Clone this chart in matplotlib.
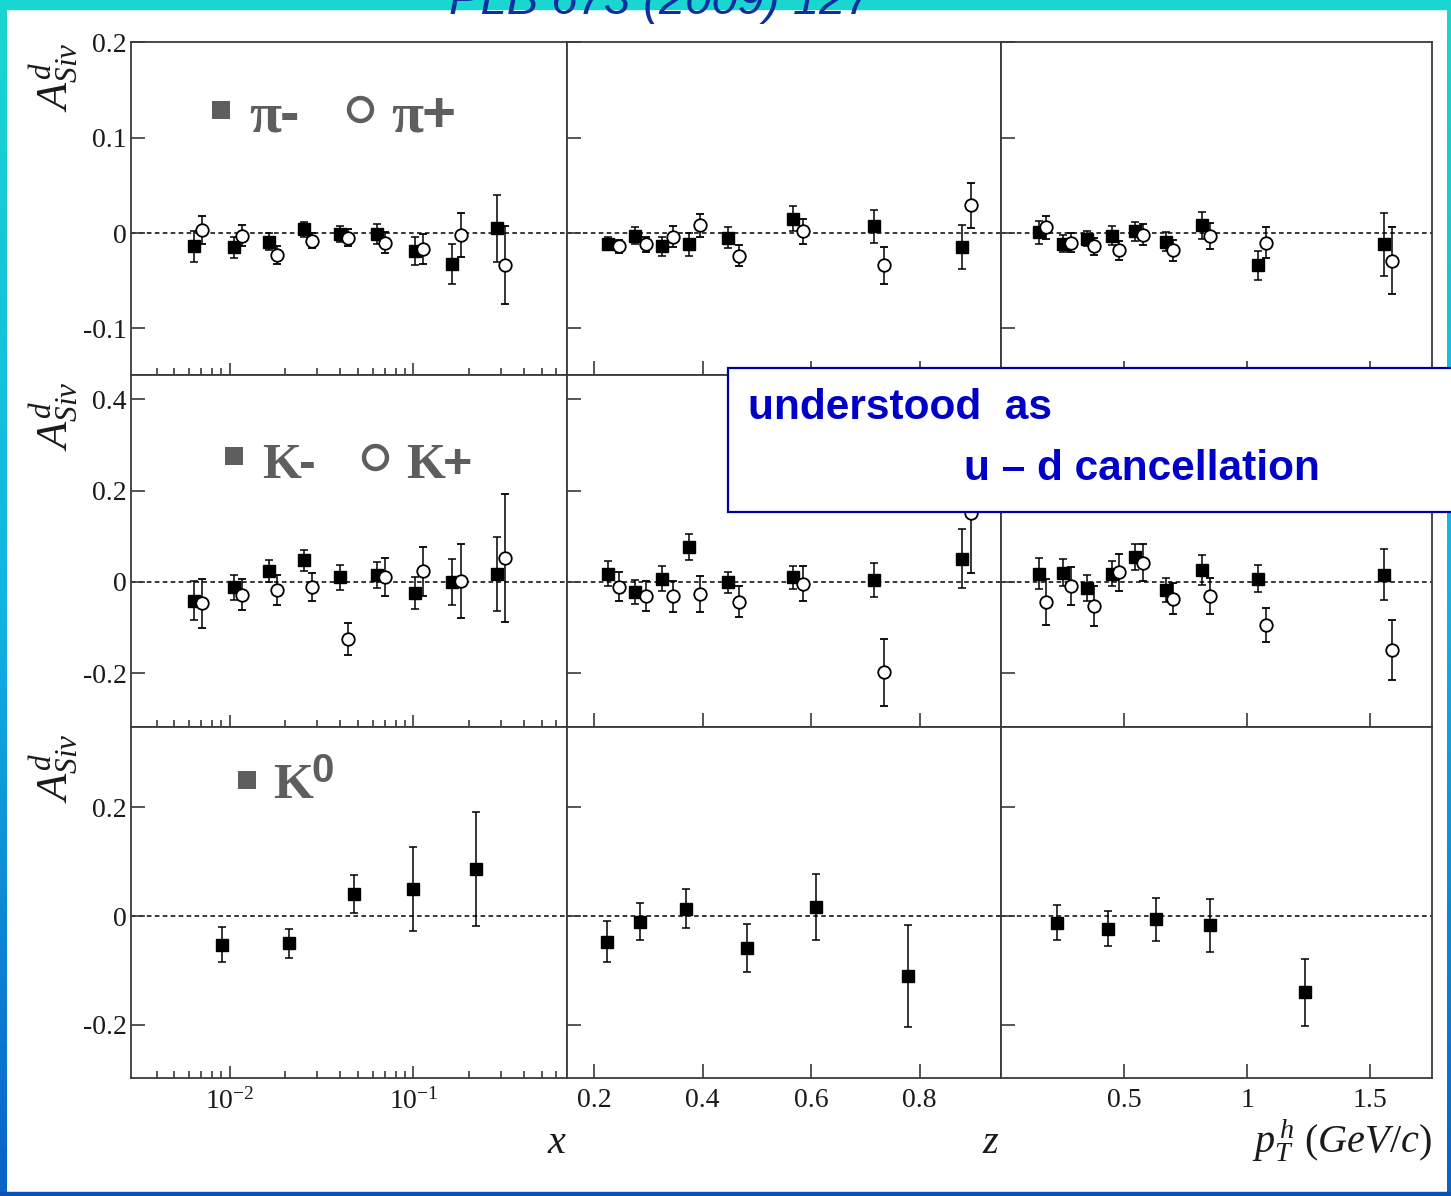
import matplotlib.pyplot as plt
import numpy as np
from matplotlib.lines import Line2D
from matplotlib.patches import Rectangle
from matplotlib.colors import LinearSegmentedColormap
from matplotlib.ticker import FixedLocator, NullFormatter, FixedFormatter

plt.rcParams['mathtext.fontset'] = 'custom'
plt.rcParams['mathtext.rm'] = 'Liberation Serif'
plt.rcParams['mathtext.it'] = 'Liberation Serif:italic'

# bin positions (shared by pions and kaons)
x_neg = [0.0064, 0.0105, 0.0164, 0.0255, 0.0398, 0.0632, 0.102, 0.162, 0.286]
x_pos = [0.0071, 0.0116, 0.0181, 0.0281, 0.044, 0.070, 0.113, 0.181, 0.316]
z_neg = [0.226, 0.276, 0.325, 0.375, 0.447, 0.566, 0.716, 0.878]
z_pos = [0.245, 0.295, 0.346, 0.395, 0.467, 0.585, 0.735, 0.895]
pt_neg = [0.155, 0.253, 0.348, 0.449, 0.545, 0.668, 0.816, 1.045, 1.557]
pt_pos = [0.184, 0.283, 0.379, 0.479, 0.578, 0.699, 0.847, 1.074, 1.588]

# pi- / pi+ asymmetries
pim_x = [-0.014, -0.015, -0.009, 0.004, -0.001, -0.001, -0.019, -0.033, 0.005]
pim_x_err = [0.016, 0.011, 0.009, 0.008, 0.008, 0.011, 0.015, 0.021, 0.035]
pip_x = [0.003, -0.003, -0.023, -0.008, -0.005, -0.010, -0.017, -0.002, -0.034]
pip_x_err = [0.015, 0.011, 0.009, 0.008, 0.009, 0.011, 0.016, 0.023, 0.041]
pim_z = [-0.011, -0.003, -0.014, -0.012, -0.005, 0.015, 0.007, -0.015]
pim_z_err = [0.007, 0.009, 0.010, 0.012, 0.011, 0.013, 0.017, 0.023]
pip_z = [-0.014, -0.012, -0.004, 0.008, -0.024, 0.002, -0.034, 0.029]
pip_z_err = [0.007, 0.008, 0.011, 0.012, 0.011, 0.013, 0.019, 0.024]
pim_pt = [0.001, -0.011, -0.006, -0.003, 0.002, -0.009, 0.008, -0.034, -0.012]
pim_pt_err = [0.012, 0.009, 0.008, 0.010, 0.010, 0.010, 0.014, 0.015, 0.033]
pip_pt = [0.006, -0.010, -0.014, -0.018, -0.002, -0.018, -0.003, -0.010, -0.029]
pip_pt_err = [0.012, 0.010, 0.009, 0.010, 0.011, 0.011, 0.014, 0.016, 0.035]

# K- / K+ asymmetries
km_x = [-0.041, -0.012, 0.023, 0.047, 0.010, 0.015, -0.024, -0.001, 0.018]
km_x_err = [0.043, 0.027, 0.024, 0.023, 0.027, 0.029, 0.035, 0.050, 0.081]
kp_x = [-0.047, -0.028, -0.018, -0.011, -0.126, 0.010, 0.023, 0.001, 0.053]
kp_x_err = [0.054, 0.034, 0.032, 0.030, 0.035, 0.042, 0.053, 0.081, 0.140]
km_z = [0.018, -0.023, 0.007, 0.076, -0.001, 0.010, 0.004, 0.051]
km_z_err = [0.027, 0.026, 0.027, 0.029, 0.023, 0.025, 0.038, 0.065]
kp_z = [-0.011, -0.031, -0.032, -0.027, -0.044, -0.004, -0.198, 0.150]
kp_z_err = [0.032, 0.033, 0.034, 0.039, 0.034, 0.038, 0.073, 0.130]
km_pt = [0.018, 0.020, -0.014, 0.018, 0.054, -0.018, 0.026, 0.007, 0.016]
km_pt_err = [0.034, 0.029, 0.028, 0.028, 0.029, 0.026, 0.033, 0.029, 0.055]
kp_pt = [-0.044, -0.009, -0.053, 0.021, 0.042, -0.037, -0.031, -0.095, -0.149]
kp_pt_err = [0.051, 0.042, 0.044, 0.041, 0.040, 0.034, 0.040, 0.037, 0.065]

# K0 asymmetries
k0_xbin = [0.00907, 0.0209, 0.0472, 0.100, 0.219]
k0_x = [-0.052, -0.050, 0.041, 0.050, 0.087]
k0_x_err = [0.033, 0.027, 0.035, 0.078, 0.105]
k0_zbin = [0.224, 0.285, 0.370, 0.481, 0.609, 0.778]
k0_z = [-0.047, -0.010, 0.014, -0.058, 0.017, -0.110]
k0_z_err = [0.038, 0.034, 0.036, 0.044, 0.061, 0.093]
k0_ptbin = [0.227, 0.433, 0.629, 0.847, 1.234]
k0_pt = [-0.012, -0.023, -0.006, -0.017, -0.140]
k0_pt_err = [0.032, 0.032, 0.039, 0.049, 0.062]

row_ylims = [(-0.149, 0.2005), (-0.318, 0.453), (-0.2975, 0.348)]
row_yticks = [[0.2, 0.1, 0, -0.1], [0.4, 0.2, 0, -0.2], [0.2, 0, -0.2]]
row_ylabels = [['0.2', '0.1', '0', '-0.1'], ['0.4', '0.2', '0', '-0.2'], ['0.2', '0', '-0.2']]

W, H = 1451, 1196
fig = plt.figure(figsize=(W / 100, H / 100), dpi=100)


def fx(px):
    return px / W


def fy(py):
    return 1 - py / H


def box(l, t, r, b):
    return [l / W, 1 - b / H, (r - l) / W, (b - t) / H]


# slide frame
bg = fig.add_axes([0, 0, 1, 1], zorder=-5)
bg.axis('off')
grad = np.linspace(0, 1, 256).reshape(-1, 1)
frame_cmap = LinearSegmentedColormap.from_list('frame', ['#1ad6d0', '#12b4e2', '#0a62c8'])
bg.imshow(grad, cmap=frame_cmap, extent=[0, 7, H, 0], aspect='auto')
bg.imshow(grad, cmap=frame_cmap, extent=[1447, W, H, 0], aspect='auto')
bg.set_xlim(0, W)
bg.set_ylim(H, 0)
bg.add_patch(Rectangle((0, 0), W, 9, color='#1ad6d0'))
bg.add_patch(Rectangle((0, 1192), W, 4, color='#0a50b8'))

fig.text(fx(660), fy(14), 'PLB 673 (2009) 127', ha='center', va='baseline',
         family='Liberation Sans', style='italic',
         fontsize=34, color='#0d2fa0', zorder=10)

cols = [(131, 567), (567, 1001), (1001, 1432)]
rows = [(42, 375), (375, 727), (727, 1078)]
spine_col = '#3a3a3a'

panels = [
    [((x_neg, pim_x, pim_x_err), (x_pos, pip_x, pip_x_err)),
     ((z_neg, pim_z, pim_z_err), (z_pos, pip_z, pip_z_err)),
     ((pt_neg, pim_pt, pim_pt_err), (pt_pos, pip_pt, pip_pt_err))],
    [((x_neg, km_x, km_x_err), (x_pos, kp_x, kp_x_err)),
     ((z_neg, km_z, km_z_err), (z_pos, kp_z, kp_z_err)),
     ((pt_neg, km_pt, km_pt_err), (pt_pos, kp_pt, kp_pt_err))],
    [((k0_xbin, k0_x, k0_x_err), None),
     ((k0_zbin, k0_z, k0_z_err), None),
     ((k0_ptbin, k0_pt, k0_pt_err), None)],
]

for r, (top, bot) in enumerate(rows):
    for c, (left, right) in enumerate(cols):
        ax = fig.add_axes(box(left, top, right, bot))
        for s in ax.spines.values():
            s.set_color(spine_col)
            s.set_linewidth(1.3)
        if c == 0:
            ax.set_xscale('log')
            ax.set_xlim(0.0029, 0.685)
            ax.xaxis.set_major_locator(FixedLocator([0.01, 0.1]))
            minors = [m * d for d in (0.001, 0.01, 0.1) for m in range(2, 10)
                      if m * d > 0.0035]
            ax.xaxis.set_minor_locator(FixedLocator(minors))
            ax.xaxis.set_minor_formatter(NullFormatter())
            xt_labels = [r'$\mathregular{10^{-2}}$', r'$\mathregular{10^{-1}}$']
        elif c == 1:
            ax.set_xlim(0.15, 0.95)
            ax.xaxis.set_major_locator(FixedLocator([0.2, 0.4, 0.6, 0.8]))
            xt_labels = ['0.2', '0.4', '0.6', '0.8']
        else:
            ax.set_xlim(0, 1.75)
            ax.xaxis.set_major_locator(FixedLocator([0.5, 1.0, 1.5]))
            xt_labels = ['0.5', '1', '1.5']
        if r == 2:
            ax.xaxis.set_major_formatter(FixedFormatter(xt_labels))
        else:
            ax.xaxis.set_major_formatter(NullFormatter())

        ax.set_ylim(*row_ylims[r])
        ax.yaxis.set_major_locator(FixedLocator(row_yticks[r]))
        if c == 0:
            ax.yaxis.set_major_formatter(FixedFormatter(row_ylabels[r]))
        else:
            ax.yaxis.set_major_formatter(NullFormatter())

        ax.tick_params(axis='both', which='major', direction='in', length=10,
                       width=1.2, color=spine_col, labelsize=20, labelcolor='#1a1a1a')
        ax.tick_params(axis='x', which='major', pad=7)
        ax.tick_params(axis='y', which='major', pad=3)
        ax.tick_params(axis='x', which='minor', direction='in', length=5,
                       width=1.2, color=spine_col)
        if c == 0:
            ax.tick_params(axis='x', which='major', length=9)
        ax.tick_params(top=False, right=False)
        for lab in ax.get_xticklabels() + ax.get_yticklabels():
            lab.set_family('Liberation Serif')

        ax.axhline(0, color='black', lw=1.1, dashes=[3, 2.2], zorder=1)

        neg, pos = panels[r][c]
        ax.errorbar(neg[0], neg[1], yerr=neg[2], fmt='s', ms=8, color='black',
                    ecolor='black', elinewidth=1.1, capsize=2.8, capthick=1.1, zorder=3)
        if pos is not None:
            ax.errorbar(pos[0], pos[1], yerr=pos[2], fmt='o', ms=9, mfc='white',
                        mec='black', mew=1.3, ecolor='black', elinewidth=1.1,
                        capsize=2.8, capthick=1.1, zorder=4)

# y-axis titles
for ytop in (42, 381, 733):
    fig.text(fx(54), fy(ytop), r'$A^{d}_{Siv}$', rotation=90, ha='center', va='top',
             fontsize=32, color='#1a1a1a')

# x-axis titles
fig.text(fx(567), fy(1153), r'$x$', ha='right', va='baseline', fontsize=29, color='#1a1a1a')
fig.text(fx(1000), fy(1153), r'$z$', ha='right', va='baseline', fontsize=29, color='#1a1a1a')
fig.text(fx(1432), fy(1153), r'$p^{\,h}_{T}\ (GeV/c)$', ha='right', va='baseline',
         fontsize=29, color='#1a1a1a')

# hadron legends drawn in grey
grey = '#5e5e5e'


def legend_marker(px, py, marker, size, filled=True):
    fig.add_artist(Line2D([fx(px)], [fy(py)], marker=marker, ms=size, ls='none',
                          mfc=grey if filled else 'none', mec=grey,
                          mew=0 if filled else 3.2, transform=fig.transFigure, zorder=6))


def legend_text(px, py, s, family, size):
    fig.text(fx(px), fy(py), s, ha='left', va='baseline', family=family,
             weight='bold', fontsize=size, color=grey, zorder=6)


legend_marker(221, 110, 's', 13.5)
legend_text(249, 132, 'π', 'Liberation Serif', 42)
legend_text(280, 132, '-', 'Liberation Sans', 42)
legend_marker(360, 109, 'o', 16.5, filled=False)
legend_text(391, 132, 'π', 'Liberation Serif', 42)
legend_text(422, 132, '+', 'Liberation Sans', 42)

legend_marker(234, 456, 's', 13.5)
legend_text(262, 478, 'K', 'Liberation Serif', 36)
legend_text(299, 478, '-', 'Liberation Sans', 36)
legend_marker(375, 457, 'o', 16.5, filled=False)
legend_text(406, 478, 'K', 'Liberation Serif', 36)
legend_text(443, 478, '+', 'Liberation Sans', 36)

legend_marker(247, 780, 's', 13.5)
legend_text(273, 798, 'K', 'Liberation Serif', 37)
legend_text(311, 782, '0', 'Liberation Sans', 29)

# annotation box
fig.add_artist(Rectangle((fx(728), fy(512)), fx(800), (512 - 368) / H,
                         transform=fig.transFigure, facecolor='white',
                         edgecolor='#0000a0', lw=1.6, zorder=20))
fig.text(fx(748), fy(419), 'understood  as', ha='left', va='baseline',
         family='Liberation Sans', weight='bold', fontsize=30.5, color='#0000c8', zorder=21)
fig.text(fx(964), fy(480), 'u – d cancellation', ha='left', va='baseline',
         family='Liberation Sans', weight='bold', fontsize=30.5, color='#0000c8', zorder=21)

fig.savefig('out.png', dpi=100)
